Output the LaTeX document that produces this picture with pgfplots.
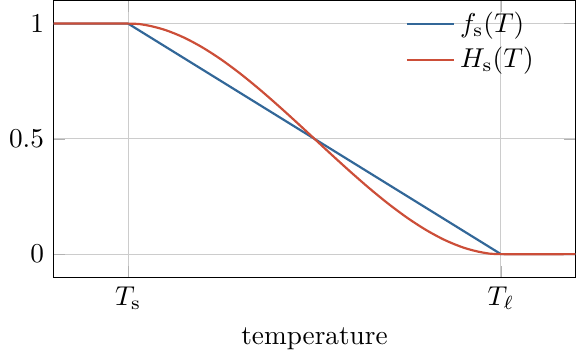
\documentclass[border=0pt]{standalone}
\usepackage{pgfplots}
\pgfplotsset{compat=1.18}
\definecolor{fblue}{RGB}{50,103,152}
\definecolor{hred}{RGB}{204,78,56}
\begin{document}
\begin{tikzpicture}
\begin{axis}[
    scale only axis,
    width=191.5pt, height=101.5pt,
    xmin=-0.2, xmax=1.2,
    ymin=-0.1, ymax=1.1,
    xtick={0,1},
    xticklabels={$T_\mathrm{s}$,$T_\ell$},
    ytick={0,0.5,1},
    xlabel={temperature},
    grid=major,
    grid style={gray!40},
    major tick style={gray!60},
    legend style={at={(0.947,1)}, anchor=north east, draw=none, fill=none},
    legend cell align=left,
]
\addplot[fblue, thick] coordinates {
    (-0.2,1) (0,1) (1,0) (1.2,0)
};
\addlegendentry{$f_\mathrm{s}(T)$}
\addplot[hred, thick, smooth] coordinates {
    (-0.2,1) (0,1) (0.05,0.9928) (0.1,0.972) (0.15,0.9393) (0.2,0.896)
    (0.25,0.8438) (0.3,0.784) (0.35,0.7183) (0.4,0.648) (0.45,0.5748)
    (0.5,0.5) (0.55,0.4252) (0.6,0.352) (0.65,0.2817) (0.7,0.216)
    (0.75,0.1562) (0.8,0.104) (0.85,0.0607) (0.9,0.028) (0.95,0.0072)
    (1,0) (1.2,0)
};
\addlegendentry{$H_\mathrm{s}(T)$}
\end{axis}
\end{tikzpicture}
\end{document}
